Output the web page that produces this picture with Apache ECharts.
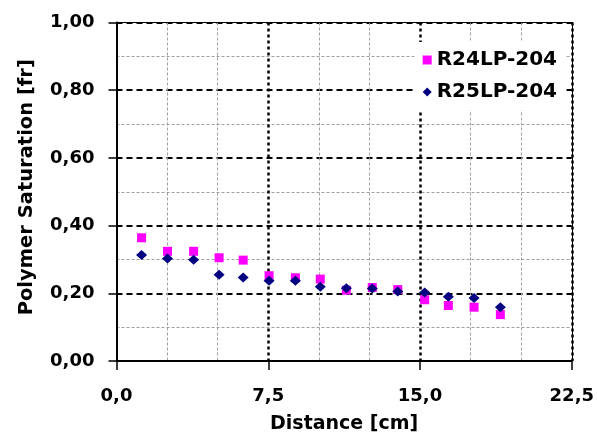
<!DOCTYPE html>
<html>
<head>
<meta charset="utf-8">
<script src="https://cdn.jsdelivr.net/npm/echarts@6/dist/echarts.min.js"></script>
<style>
html,body{margin:0;padding:0;background:#fff;}
#chart{width:597px;height:439px;}
</style>
</head>
<body>
<div id="chart"></div>
<script>
var distance = [1.24, 2.52, 3.81, 5.07, 6.26, 7.54, 8.84, 10.07, 11.36, 12.64, 13.90, 15.23, 16.40, 17.67, 18.97];
var r24 = [0.364, 0.324, 0.324, 0.305, 0.298, 0.252, 0.246, 0.242, 0.209, 0.217, 0.211, 0.181, 0.164, 0.159, 0.137];
var r25 = [0.313, 0.303, 0.299, 0.255, 0.247, 0.237, 0.237, 0.219, 0.215, 0.214, 0.205, 0.202, 0.190, 0.186, 0.159];
var seriesNames = ['R24LP-204', 'R25LP-204'];
var xTitle = 'Distance [cm]';
var yTitle = 'Polymer Saturation [fr]';

function pairs(xs, ys) { return xs.map(function (x, i) { return [x, ys[i]]; }); }
var FONT = 'DejaVu Sans';

var chart = echarts.init(document.getElementById('chart'), null, {renderer: 'canvas'});
chart.setOption({
  animation: false,
  backgroundColor: '#ffffff',
  grid: {left: 116.5, right: 25, top: 22.5, bottom: 75, containLabel: false},
  legend: {
    orient: 'vertical',
    right: 32, top: 42,
    backgroundColor: '#ffffff',
    padding: [8, 8, 8, 8],
    itemGap: 12,
    itemWidth: 9, itemHeight: 9,
    textStyle: {fontFamily: FONT, fontWeight: 'bold', fontSize: 20, color: '#000'},
    data: [
      {name: seriesNames[0], icon: 'rect', itemStyle: {color: '#ff00ff'}},
      {name: seriesNames[1], icon: 'diamond', itemStyle: {color: '#000080'}}
    ]
  },
  xAxis: [{
    type: 'value', min: 0, max: 22.5, interval: 7.5,
    name: xTitle, nameLocation: 'middle', nameGap: 54,
    nameTextStyle: {fontFamily: FONT, fontWeight: 'bold', fontSize: 19, color: '#000'},
    axisLine: {show: true, onZero: false, lineStyle: {color: '#000', width: 2}},
    axisTick: {show: true, length: 9, lineStyle: {color: '#000', width: 1.5}},
    axisLabel: {margin: 26, fontFamily: FONT, fontWeight: 'bold', fontSize: 18, color: '#000',
      formatter: function (v) { return v.toFixed(1).replace('.', ','); }},
    splitLine: {show: true, showMinLine: false, lineStyle: {color: '#000', width: 2.5, type: [3, 3]}},
    minorTick: {show: false, splitNumber: 3},
    minorSplitLine: {show: true, lineStyle: {color: '#a0a0a0', width: 1, type: [3, 2]}}
  }, {
    type: 'value', position: 'top', min: 0, max: 22.5, interval: 7.5,
    axisLine: {show: true, onZero: false, lineStyle: {color: '#000', width: 1}},
    axisTick: {show: false}, axisLabel: {show: false}, splitLine: {show: false}
  }],
  yAxis: [{
    type: 'value', min: 0, max: 1, interval: 0.2,
    name: yTitle, nameLocation: 'middle', nameGap: 80,
    nameTextStyle: {fontFamily: FONT, fontWeight: 'bold', fontSize: 19.5, color: '#000', padding: [0, 0, 0, 9]},
    axisLine: {show: true, onZero: false, lineStyle: {color: '#000', width: 2}},
    axisTick: {show: true, length: 8, lineStyle: {color: '#000', width: 1.5}},
    axisLabel: {margin: 22, fontFamily: FONT, fontWeight: 'bold', fontSize: 18, color: '#000',
      formatter: function (v) { return v.toFixed(2).replace('.', ','); }},
    splitLine: {show: true, showMinLine: false, lineStyle: {color: '#000', width: 2, type: [6, 4]}},
    minorTick: {show: false, splitNumber: 2},
    minorSplitLine: {show: true, lineStyle: {color: '#a0a0a0', width: 1, type: [3, 2]}}
  }, {
    type: 'value', position: 'right', min: 0, max: 1, interval: 0.2,
    axisLine: {show: true, onZero: false, lineStyle: {color: '#000', width: 1}},
    axisTick: {show: false}, axisLabel: {show: false}, splitLine: {show: false}
  }],
  series: [
    {name: seriesNames[0], type: 'scatter', symbol: 'rect', symbolSize: 9,
      itemStyle: {color: '#ff00ff', opacity: 1}, data: pairs(distance, r24)},
    {name: seriesNames[1], type: 'scatter', symbol: 'diamond', symbolSize: [11, 10],
      itemStyle: {color: '#000080', opacity: 1}, data: pairs(distance, r25)}
  ]
});
</script>
</body>
</html>
